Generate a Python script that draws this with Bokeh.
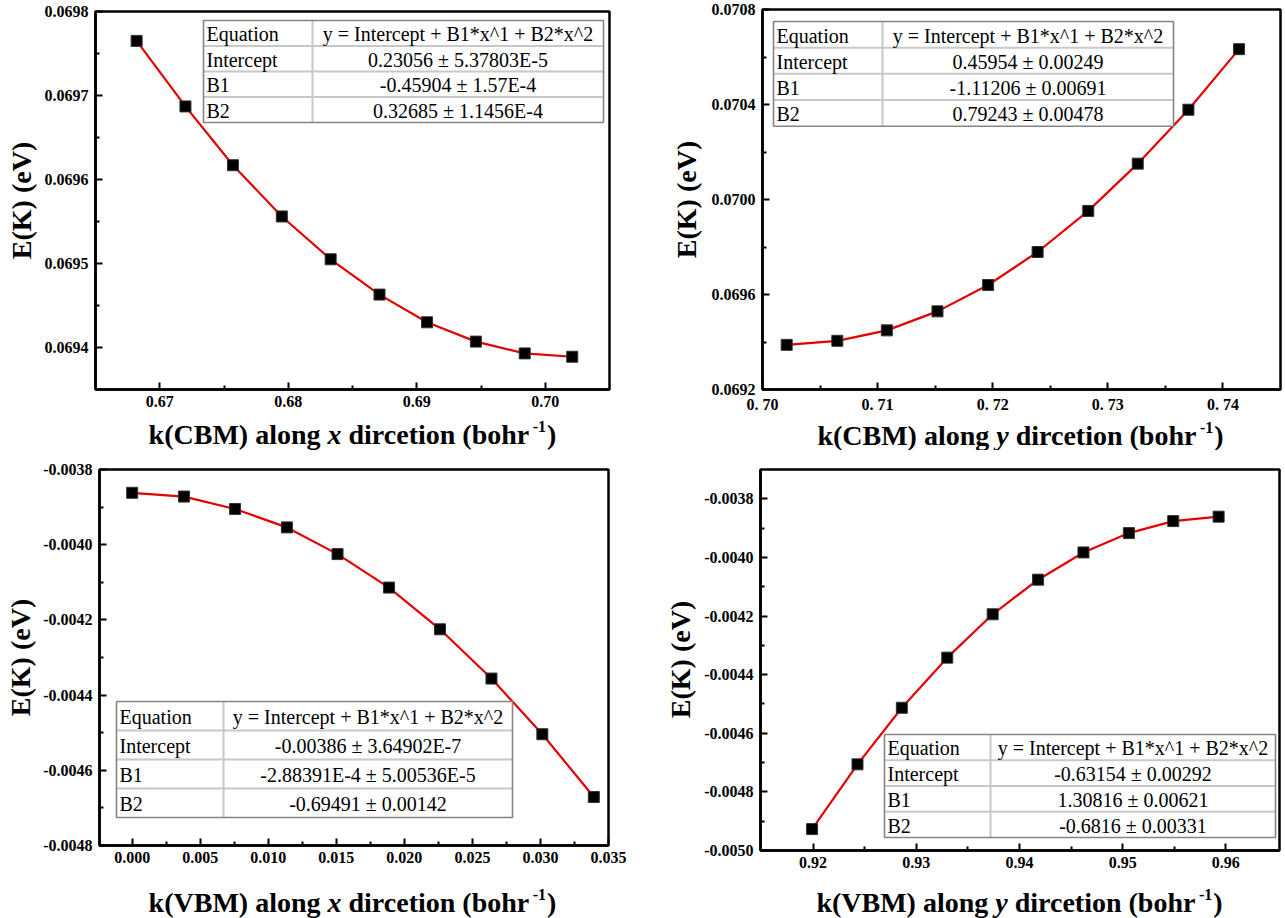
import math
from bokeh.plotting import figure
from bokeh.layouts import column, row
from bokeh.models import Label, FixedTicker, PrintfTickFormatter, CustomJSTickFormatter, Range1d
from bokeh.embed import file_html
from bokeh.resources import INLINE

# ---------------- data ----------------
k_cbm_x = [0.6682, 0.6720, 0.6757, 0.6795, 0.6833, 0.6871, 0.6908, 0.6946, 0.6984, 0.7021]
e_cbm_x = [0.069765, 0.069687, 0.069617, 0.069556, 0.069505, 0.069463, 0.069430, 0.069407, 0.069393, 0.069389]

k_cbm_y = [0.7021, 0.7065, 0.7108, 0.7152, 0.7196, 0.7239, 0.7283, 0.7326, 0.7370, 0.7414]
e_cbm_y = [0.069388, 0.069405, 0.069449, 0.069529, 0.069640, 0.069779, 0.069952, 0.070151, 0.070378, 0.070633]

k_vbm_x = [0.0, 0.00381, 0.00756, 0.01137, 0.01509, 0.01887, 0.02262, 0.02640, 0.03014, 0.03392]
e_vbm_x = [-0.003862, -0.003872, -0.003905, -0.003954, -0.004025, -0.004114, -0.004225, -0.004356, -0.004504, -0.004671]

k_vbm_y = [0.9199, 0.9243, 0.9286, 0.9330, 0.9374, 0.9418, 0.9462, 0.9506, 0.9549, 0.9593]
e_vbm_y = [-0.004927, -0.004706, -0.004513, -0.004342, -0.004194, -0.004076, -0.003983, -0.003917, -0.003876, -0.003861]

table_rows = ["Equation", "Intercept", "B1", "B2"]
equation = "y = Intercept + B1*x^1 + B2*x^2"
fit_cbm_x = ["0.23056 \u00b1 5.37803E-5", "-0.45904 \u00b1 1.57E-4", "0.32685 \u00b1 1.1456E-4"]
fit_cbm_y = ["0.45954 \u00b1 0.00249", "-1.11206 \u00b1 0.00691", "0.79243 \u00b1 0.00478"]
fit_vbm_x = ["-0.00386 \u00b1 3.64902E-7", "-2.88391E-4 \u00b1 5.00536E-5", "-0.69491 \u00b1 0.00142"]
fit_vbm_y = ["-0.63154 \u00b1 0.00292", "1.30816 \u00b1 0.00621", "-0.6816 \u00b1 0.00331"]

xticks_cbm_x = [0.67, 0.68, 0.69, 0.70]
xminor_cbm_x = [0.675, 0.685, 0.695]
yticks_cbm_x = [0.0694, 0.0695, 0.0696, 0.0697, 0.0698]
yminor_cbm_x = [0.06945, 0.06955, 0.06965, 0.06975]

xticks_cbm_y = [0.70, 0.71, 0.72, 0.73, 0.74]
xminor_cbm_y = [0.705, 0.715, 0.725, 0.735]
yticks_cbm_y = [0.0692, 0.0696, 0.0700, 0.0704, 0.0708]
yminor_cbm_y = [0.0694, 0.0698, 0.0702, 0.0706]

xticks_vbm_x = [0.000, 0.005, 0.010, 0.015, 0.020, 0.025, 0.030, 0.035]
xminor_vbm_x = [0.0025, 0.0075, 0.0125, 0.0175, 0.0225, 0.0275, 0.0325]
yticks_vbm_x = [-0.0048, -0.0046, -0.0044, -0.0042, -0.0040, -0.0038]
yminor_vbm_x = [-0.0047, -0.0045, -0.0043, -0.0041, -0.0039]

xticks_vbm_y = [0.92, 0.93, 0.94, 0.95, 0.96]
xminor_vbm_y = [0.925, 0.935, 0.945, 0.955]
yticks_vbm_y = [-0.0050, -0.0048, -0.0046, -0.0044, -0.0042, -0.0040, -0.0038]
yminor_vbm_y = [-0.0049, -0.0047, -0.0045, -0.0043, -0.0041, -0.0039]

SERIF = "Liberation Serif"
EPS = 1e-12

# Times bold advance widths (per 1000 em) for composing the x axis titles
BOLD_W = {'k': 556, '(': 333, ')': 333, 'C': 722, 'B': 667, 'M': 944, 'V': 722, ' ': 250,
          'a': 500, 'l': 278, 'o': 500, 'n': 556, 'g': 500, 'd': 556, 'i': 278, 'r': 444,
          'c': 444, 'e': 444, 't': 333, 'b': 556, 'h': 556, '-': 333, '1': 500}
BI_W = {'x': 500, 'y': 444}


def tw(s, size, table):
    return sum(table.get(c, 500) for c in s) / 1000.0 * size


def strip(w, h, xr, yr, bl=0, br=0):
    s = figure(width=w, height=h, x_range=Range1d(*xr), y_range=Range1d(*yr),
               output_backend="svg", toolbar_location=None, tools="", title=None,
               x_axis_type=None, y_axis_type=None,
               min_border_left=bl, min_border_right=br, min_border_top=0, min_border_bottom=0)
    s.outline_line_color = None
    s.background_fill_color = "white"
    s.border_fill_color = "white"
    s.xgrid.visible = False
    s.ygrid.visible = False
    return s


def make_quadrant(cfg):
    ox, oy, w, h = cfg["quad"]
    wy, hx = cfg["wy"], cfg["hx"]
    left, top, right, bottom = cfg["frame"]
    mw, mh = w - wy, h - hx
    mx, my = ox + wy, oy
    L, T = left - mx, top - my
    R, B = (mx + mw) - right, (my + mh) - bottom
    xr, yr = cfg["xr"], cfg["yr"]
    p = figure(width=mw, height=mh, x_range=Range1d(xr[0] - EPS, xr[1] + EPS),
               y_range=Range1d(yr[0] - EPS, yr[1] + EPS), output_backend="svg",
               toolbar_location=None, tools="",
               min_border_left=L, min_border_top=T, min_border_right=R, min_border_bottom=B)
    p.background_fill_color = "white"
    p.border_fill_color = "white"
    p.xgrid.visible = False
    p.ygrid.visible = False
    p.outline_line_color = "black"
    p.outline_line_width = 2.5

    def conv(ax, ay):
        x = xr[0] + (ax - left) / (right - left) * (xr[1] - xr[0])
        y = yr[1] - (ay - top) / (bottom - top) * (yr[1] - yr[0])
        return x, y

    for axis in (p.xaxis[0], p.yaxis[0]):
        axis.axis_line_color = "black"
        axis.axis_line_width = 2.5
        axis.major_tick_in = 7
        axis.major_tick_out = 0
        axis.minor_tick_in = 4
        axis.minor_tick_out = 0
        axis.major_tick_line_width = 2
        axis.minor_tick_line_width = 2
        axis.major_tick_line_color = "black"
        axis.minor_tick_line_color = "black"
        axis.major_label_text_font = SERIF
        axis.major_label_text_font_style = "bold"
        axis.major_label_text_font_size = "16px"
        axis.major_label_text_color = "black"
        axis.major_label_standoff = 7
        axis.axis_label = None
    p.xaxis.major_label_standoff = 6
    p.xaxis.ticker = FixedTicker(ticks=cfg["xt"], minor_ticks=cfg["xmt"])
    p.yaxis.ticker = FixedTicker(ticks=cfg["yt"], minor_ticks=cfg["ymt"])
    p.xaxis.formatter = cfg["xfmt"]
    p.yaxis.formatter = PrintfTickFormatter(format="%.4f")

    # data points and the fit line through them
    p.line(cfg["k"], cfg["e"], line_color="#e50000", line_width=2.2)
    p.scatter(cfg["k"], cfg["e"], marker="square", size=11, fill_color="black",
              line_color="#333333", line_width=1)

    # parameter table
    tx0, ty0, tx1, ty1, tdiv = cfg["table"]
    (dx0, dy0), (dx1, dy1) = conv(tx0, ty0), conv(tx1, ty1)
    ddiv, _ = conv(tdiv, ty0)
    p.quad(left=[dx0], right=[dx1], top=[dy0], bottom=[dy1], fill_color="white",
           line_color=None)
    rh = (ty1 - ty0) / 4.0
    hy = [conv(tx0, ty0 + rh * i)[1] for i in range(1, 4)]
    p.segment(x0=[dx0] * 3, x1=[dx1] * 3, y0=hy, y1=hy, line_color="#c8c8c8", line_width=2)
    p.segment(x0=[ddiv], x1=[ddiv], y0=[dy0], y1=[dy1], line_color="#c8c8c8", line_width=2)
    p.quad(left=[dx0], right=[dx1], top=[dy0], bottom=[dy1], fill_color=None,
           line_color="#858585", line_width=1.6)
    col2 = [equation] + cfg["fit"]
    for i in range(4):
        cy = ty0 + rh * (i + 0.5) + 1
        x_l, y_c = conv(tx0 + 3, cy)
        p.add_layout(Label(x=x_l, y=y_c, text=table_rows[i], text_font=SERIF,
                           text_font_size="20px", text_align="left",
                           text_baseline="middle", text_color="black"))
        x_c, _ = conv((tdiv + tx1) / 2.0, cy)
        p.add_layout(Label(x=x_c, y=y_c, text=col2[i], text_font=SERIF,
                           text_font_size="20px", text_align="center",
                           text_baseline="middle", text_color="black"))

    # y axis title strip (left); coordinates are canvas pixels
    ys = strip(wy, h, (ox, ox + wy), (0, h))
    yx, yy = cfg["ylab"]
    ys.add_layout(Label(x=yx, y=(oy + h) - yy, text="E(K) (eV)", text_font=SERIF,
                        text_font_style="bold", text_font_size="28px", text_align="center",
                        text_baseline="middle", angle=math.pi / 2, text_color="black"))

    # x axis title strip (below), frame aligned with the plot frame; canvas pixels
    xs = strip(mw, hx, (left, right), (0, hx), bl=L, br=R)
    cx, base = cfg["xlab"]
    base -= 5
    prefix, var = cfg["prefix"], cfg["var"]
    size, ssize = 28, 16
    parts = [
        (prefix, "bold", size, 0, tw(prefix, size, BOLD_W)),
        (var, "bold italic", size, 0, tw(var, size, BI_W)),
        (" dircetion (bohr", "bold", size, 0, tw(" dircetion (bohr", size, BOLD_W) + 3),
        ("-1", "bold", ssize, 8, tw("-1", ssize, BOLD_W) + 1),
        (")", "bold", size, 0, tw(")", size, BOLD_W)),
    ]
    total = sum(pp[4] for pp in parts)
    xpos = cx - total / 2.0
    for text, style, fs, raise_, wdt in parts:
        lead = tw(text[: len(text) - len(text.lstrip())], fs, BOLD_W)
        xs.add_layout(Label(x=xpos + lead, y=(oy + h) - base + raise_, text=text.strip(),
                            text_font=SERIF, text_font_style=style,
                            text_font_size=f"{fs}px", text_align="left",
                            text_baseline="alphabetic", text_color="black"))
        xpos += wdt
    return row(ys, column(p, xs, spacing=0), spacing=0)


cfgs = [
    dict(quad=(0, 0, 640, 450), wy=40, hx=34, frame=(95, 11, 609, 389),
         xr=(0.665, 0.705), yr=(0.06935, 0.0698),
         xt=xticks_cbm_x, xmt=xminor_cbm_x, yt=yticks_cbm_x, ymt=yminor_cbm_x,
         xfmt=PrintfTickFormatter(format="%.2f"), k=k_cbm_x, e=e_cbm_x, fit=fit_cbm_x,
         table=(203, 20, 603, 122, 312), ylab=(21, 200), xlab=(352, 439),
         prefix="k(CBM) along ", var="x"),
    dict(quad=(640, 0, 645, 450), wy=66, hx=35, frame=(762, 9, 1280, 390),
         xr=(0.70, 0.745), yr=(0.0692, 0.0708),
         xt=xticks_cbm_y, xmt=xminor_cbm_y, yt=yticks_cbm_y, ymt=yminor_cbm_y,
         xfmt=CustomJSTickFormatter(code="return tick.toFixed(2).replace('.', '. ');"),
         k=k_cbm_y, e=e_cbm_y, fit=fit_cbm_y,
         table=(773, 21, 1173, 126, 882), ylab=(686, 199), xlab=(1020, 440),
         prefix="k(CBM) along ", var="y"),
    dict(quad=(0, 450, 640, 468), wy=40, hx=44, frame=(99, 469, 608, 845),
         xr=(-0.0024, 0.035), yr=(-0.0048, -0.0038),
         xt=xticks_vbm_x, xmt=xminor_vbm_x, yt=yticks_vbm_x, ymt=yminor_vbm_x,
         xfmt=PrintfTickFormatter(format="%.3f"), k=k_vbm_x, e=e_vbm_x, fit=fit_vbm_x,
         table=(116, 701, 512, 817, 223), ylab=(20, 657), xlab=(352, 907),
         prefix="k(VBM) along ", var="x"),
    dict(quad=(640, 450, 645, 468), wy=60, hx=42, frame=(760, 469, 1279, 850),
         xr=(0.9149, 0.9652), yr=(-0.0050, -0.0037),
         xt=xticks_vbm_y, xmt=xminor_vbm_y, yt=yticks_vbm_y, ymt=yminor_vbm_y,
         xfmt=PrintfTickFormatter(format="%.2f"), k=k_vbm_y, e=e_vbm_y, fit=fit_vbm_y,
         table=(884, 734, 1275, 837, 990), ylab=(680, 659), xlab=(1019, 907),
         prefix="k(VBM) along ", var="y"),
]

quads = [make_quadrant(c) for c in cfgs]
layout = column(row(quads[0], quads[1], spacing=0), row(quads[2], quads[3], spacing=0), spacing=0)

open("out.html", "w").write(file_html(layout, INLINE))
